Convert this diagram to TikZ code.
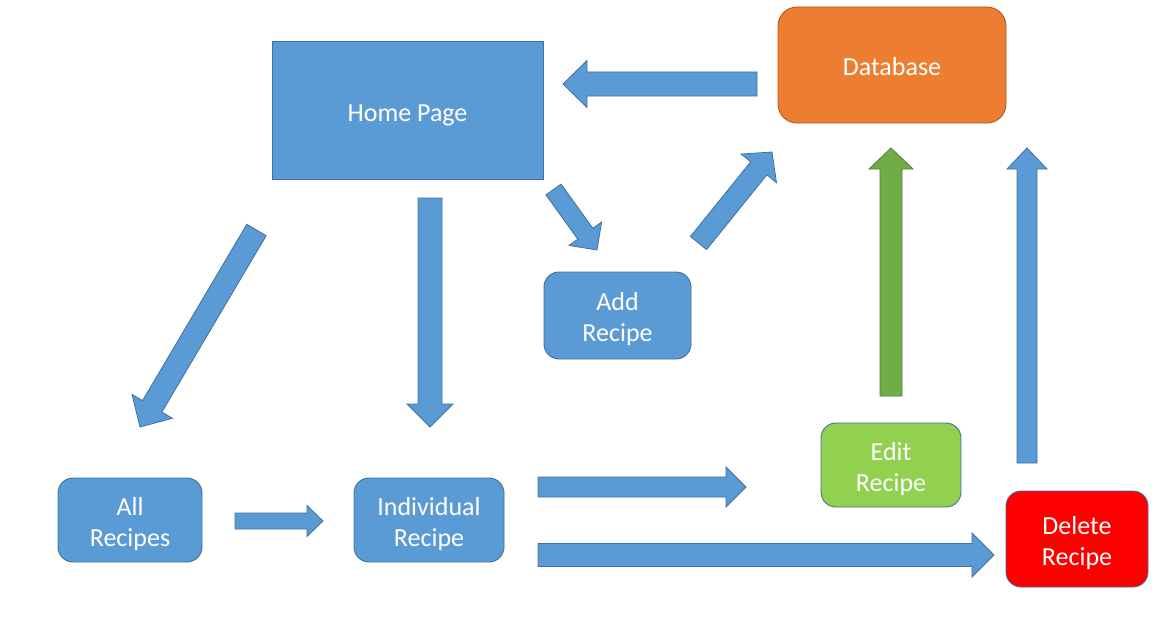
\documentclass[tikz,border=0pt]{standalone}
\usepackage{fontspec}
\setmainfont{Carlito}
\usetikzlibrary{calc}
\definecolor{boxblue}{HTML}{5B9BD5}
\definecolor{edgeblue}{HTML}{41719C}
\definecolor{dborange}{HTML}{ED7D31}
\definecolor{dbedge}{HTML}{AE5A21}
\definecolor{editgreen}{HTML}{92D050}
\definecolor{arrgreen}{HTML}{70AD47}
\definecolor{arrgreenedge}{HTML}{507E32}
\definecolor{delred}{HTML}{FF0000}
\tikzset{
  box/.style={draw=edgeblue, line width=0.9pt, fill=boxblue, text=white,
    inner sep=0pt, font=\fontsize{26}{31}\selectfont},
  rbox/.style={box, rounded corners=15pt},
  barrow/.style={draw=edgeblue, line width=0.8pt, fill=boxblue, line join=miter},
  garrow/.style={draw=arrgreenedge, line width=0.8pt, fill=arrgreen, line join=miter}
}
\newcommand\lbl[1]{\raisebox{-4.5pt}[\height][\depth]{\begin{tabular}{@{}c@{}}#1\end{tabular}}}
% #1 style, #2 tail, #3 tip, #4 shaft half width, #5 head half width, #6 head length
\newcommand\blockarr[6][barrow]{%
  \coordinate (tmpbase) at ($(#3)!#6!(#2)$);
  \draw[#1] ($(#2)!#4!90:(#3)$) -- ($(tmpbase)!#4!90:(#3)$) -- ($(tmpbase)!#5!90:(#3)$)
    -- (#3) -- ($(tmpbase)!#5!-90:(#3)$) -- ($(tmpbase)!#4!-90:(#3)$) -- ($(#2)!#4!-90:(#3)$) -- cycle;
}
\begin{document}
\begin{tikzpicture}[x=1pt,y=-1pt]
\useasboundingbox[fill=white] (0,0) rectangle (1165,626);
% boxes
\node[box, minimum width=271pt, minimum height=138pt] (home) at (407.5,110.5) {\lbl{Home Page}};
\node[rbox, draw=dbedge, fill=dborange, rounded corners=19pt, minimum width=228pt, minimum height=116pt] (db) at (892,65) {\lbl{Database}};
\node[rbox, minimum width=147pt, minimum height=87pt] (add) at (617.5,315.5) {\lbl{Add\\Recipe}};
\node[rbox, minimum width=144pt, minimum height=84pt] (all) at (130,520) {\lbl{All\\Recipes}};
\node[rbox, minimum width=150pt, minimum height=84pt] (ind) at (429,520) {\lbl{Individual\\Recipe}};
\node[rbox, fill=editgreen, minimum width=140pt, minimum height=84pt] (edit) at (891,465) {\lbl{Edit\\Recipe}};
\node[rbox, fill=delred, minimum width=142pt, minimum height=96pt] (del) at (1077,539) {\lbl{Delete\\Recipe}};
% arrow end points
\coordinate (dbT) at (757,84);      \coordinate (dbH) at (563,84);
\coordinate (haT) at (553.5,189.5); \coordinate (haH) at (597,250);
\coordinate (adT) at (698.5,243);   \coordinate (adH) at (772,152);
\coordinate (hlT) at (256.5,230);   \coordinate (hlH) at (140,427);
\coordinate (hiT) at (430,198);     \coordinate (hiH) at (430,427);
\coordinate (aiT) at (235,521);     \coordinate (aiH) at (323,521);
\coordinate (ieT) at (538,487);     \coordinate (ieH) at (746,487);
\coordinate (idT) at (538,555);     \coordinate (idH) at (994,555);
\coordinate (edT) at (891,396);     \coordinate (edH) at (891,148);
\coordinate (ddT) at (1027,463);    \coordinate (ddH) at (1027,148);
% arrows
\blockarr{dbT}{dbH}{12pt}{23.5pt}{24pt}
\blockarr{haT}{haH}{9.3pt}{20pt}{20pt}
\blockarr{adT}{adH}{10.4pt}{22.7pt}{21pt}
\blockarr{hlT}{hlH}{11.25pt}{23.5pt}{24pt}
\blockarr{hiT}{hiH}{12pt}{23pt}{23pt}
\blockarr{aiT}{aiH}{8pt}{15.5pt}{16pt}
\blockarr{ieT}{ieH}{10pt}{20pt}{20pt}
\blockarr{idT}{idH}{11.5pt}{22pt}{22pt}
\blockarr[garrow]{edT}{edH}{11pt}{22pt}{21pt}
\blockarr{ddT}{ddH}{10pt}{20pt}{21pt}
\end{tikzpicture}
\end{document}
